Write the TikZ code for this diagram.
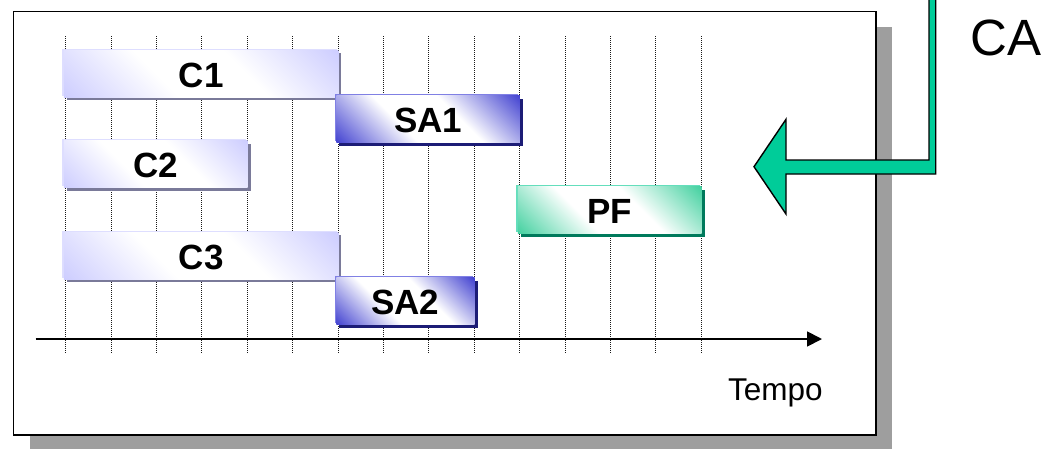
\documentclass[tikz,border=0pt]{standalone}
\usepackage{fontspec}
\setmainfont{Liberation Sans}
\usetikzlibrary{arrows.meta,shadows,patterns}
\definecolor{cMain}{RGB}{200,200,255}
\definecolor{cBorder}{RGB}{222,222,255}
\definecolor{cShadow}{RGB}{122,122,153}
\definecolor{saMain}{RGB}{48,48,204}
\definecolor{saBorder}{RGB}{128,128,228}
\definecolor{saShadow}{RGB}{28,28,118}
\definecolor{pfMain}{RGB}{48,204,150}
\definecolor{pfBorder}{RGB}{100,222,188}
\definecolor{pfShadow}{RGB}{0,122,92}
\definecolor{arrowGreen}{RGB}{0,204,153}
\pgfdeclarehorizontalshading{cshade}{100bp}{color(0bp)=(cMain); color(12bp)=(cMain); color(40bp)=(white); color(60bp)=(white); color(88bp)=(cMain); color(100bp)=(cMain)}
\pgfdeclarehorizontalshading{sashade}{100bp}{color(0bp)=(saMain); color(12bp)=(saMain); color(40bp)=(white); color(60bp)=(white); color(88bp)=(saMain); color(100bp)=(saMain)}
\pgfdeclarehorizontalshading{pfshade}{100bp}{color(0bp)=(pfMain); color(12bp)=(pfMain); color(40bp)=(white); color(60bp)=(white); color(88bp)=(pfMain); color(100bp)=(pfMain)}
\pgfdeclarepatternformonly{finecheck}{\pgfqpoint{0pt}{0pt}}{\pgfqpoint{3pt}{3pt}}{\pgfqpoint{3pt}{3pt}}{%
  \pgfpathrectangle{\pgfqpoint{0pt}{0pt}}{\pgfqpoint{1.5pt}{1.5pt}}%
  \pgfpathrectangle{\pgfqpoint{1.5pt}{1.5pt}}{\pgfqpoint{1.5pt}{1.5pt}}%
  \pgfusepath{fill}}
\begin{document}
\begin{tikzpicture}[x=1pt,y=-1pt,
  gbox/.style={inner sep=0pt, anchor=north west, minimum height=47pt,
    text height=27pt, text depth=0pt,
    font=\bfseries\fontsize{35pt}{37pt}\selectfont, shading angle=45},
  cbox/.style={gbox, shading=cshade,
    general shadow={fill=cShadow, shadow xshift=3pt, shadow yshift=-3pt},
    general shadow={fill=cBorder, shadow xshift=-1.5pt, shadow yshift=1.5pt}},
  sabox/.style={gbox, shading=sashade,
    general shadow={fill=saShadow, shadow xshift=3pt, shadow yshift=-3pt},
    general shadow={fill=saBorder, shadow xshift=-1.5pt, shadow yshift=1.5pt}},
  pfbox/.style={gbox, shading=pfshade,
    general shadow={fill=pfShadow, shadow xshift=3pt, shadow yshift=-3pt},
    general shadow={fill=pfBorder, shadow xshift=-1.5pt, shadow yshift=1.5pt}},
  gridline/.style={black!90, line width=1.1pt, dash pattern=on 1pt off 1pt},
  framebox/.style={draw=black, line width=1.6pt, fill=white, inner sep=0pt, anchor=north west,
    general shadow={fill=black!38, shadow xshift=16pt, shadow yshift=-16pt}},
  framecheck/.style={pattern=finecheck, pattern color=black!55},
  axisline/.style={line width=1.8pt, -{Triangle[length=15pt,width=15pt]}},
  bigarrow/.style={draw=black, line width=1.4pt, fill=arrowGreen, line join=miter}
]
\useasboundingbox (0,0) rectangle (1047,448);
% frame with shadow
\node[framebox, minimum width=862.3pt, minimum height=423.5pt] (frame) at (12.7,10.5) {};
% grid
\foreach \k in {0,...,14}{
  \draw[gridline] ({65.7+45.4*\k},36) -- ({65.7+45.4*\k},353.5);
}
% axis
\coordinate (t0) at (35.7,339);
\coordinate (t1) at (822,339);
\draw[axisline] (t0) -- (t1);
\node[anchor=base west, inner sep=0pt, font=\fontsize{31.5pt}{33pt}\selectfont] (tempo) at (727.8,400) {Tempo};
% bars
\node[cbox, minimum width=274.4pt] (c1) at (63.7,50) {C1};
\node[sabox, minimum width=183.6pt] (sa1) at (336.1,95.5) {SA1};
\node[cbox, minimum width=183.6pt] (c2) at (63.7,140.5) {C2};
\node[pfbox, minimum width=183.6pt] (pf) at (517.7,186.5) {PF};
\node[cbox, minimum width=274.4pt] (c3) at (63.7,232) {C3};
\node[sabox, minimum width=138.2pt] (sa2) at (336.1,277.5) {SA2};
% green arrow
\draw[bigarrow] (929,-4) -- (929,160) -- (786,160) -- (786,119.3) -- (754,166.7)
  -- (786,214) -- (786,174) -- (935.7,174) -- (935.7,-4) -- cycle;
\node[anchor=base west, inner sep=0pt, font=\fontsize{51pt}{53pt}\selectfont] (ca) at (970,55) {CA};
\end{tikzpicture}
\end{document}
